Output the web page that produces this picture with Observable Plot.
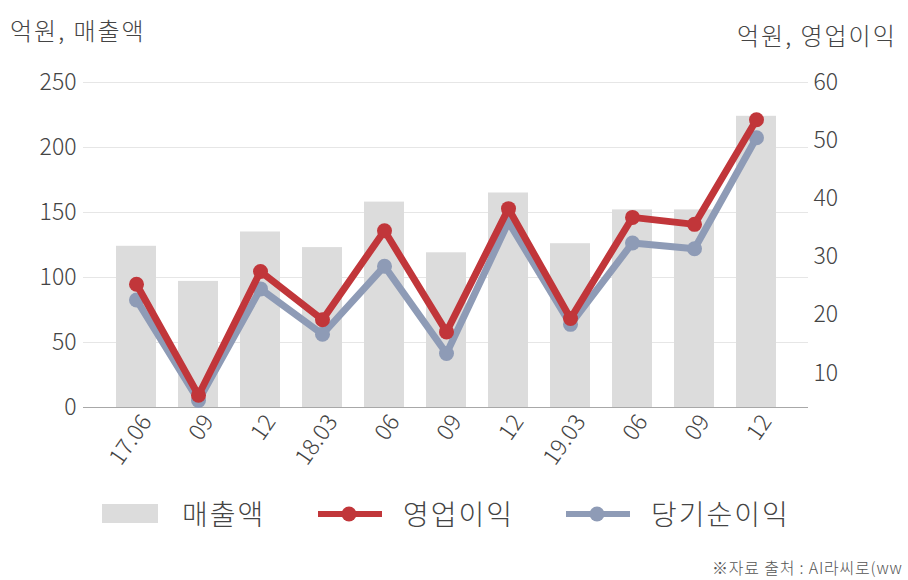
<!DOCTYPE html>
<html>
<head>
<meta charset="utf-8">
<script src="https://cdn.jsdelivr.net/npm/d3@7"></script>
<script src="https://cdn.jsdelivr.net/npm/@observablehq/plot@0.6"></script>
<style>
  html, body { margin: 0; padding: 0; background: #fff; }
  #page { position: relative; width: 908px; height: 580px; overflow: hidden; font-family: 'Noto Sans CJK KR', 'Noto Sans', sans-serif; font-weight: 300; color: #444; }
  #chart { position: absolute; left: 0; top: 0; }
  .unit { position: absolute; font-size: 24px; white-space: nowrap; color: #444; letter-spacing: 2px; }
  .leg { position: absolute; font-size: 28px; white-space: nowrap; color: #444; line-height: 1; letter-spacing: 2px; }
  .sw { position: absolute; }
  #cap { position: absolute; left: 712px; top: 555px; font-size: 16px; white-space: nowrap; color: #555; letter-spacing: 0.8px; }
</style>
</head>
<body>
<div id="page">
  <div id="chart"></div>
  <div class="unit" style="left:10px; top:12px;">억원, 매출액</div>
  <div class="unit" style="left:737px; top:17px;">억원, 영업이익</div>

  <svg class="sw" style="left:102px; top:504px;" width="56" height="19"><rect width="56" height="19" fill="#dcdcdc"/></svg>
  <div class="leg" style="left:182px; top:499px;">매출액</div>

  <svg class="sw" style="left:318px; top:504px;" width="64" height="20"><line x1="0" x2="64" y1="10" y2="10" stroke="#c1363a" stroke-width="6"/><circle cx="31" cy="10" r="7.5" fill="#c1363a"/></svg>
  <div class="leg" style="left:403px; top:499px;">영업이익</div>

  <svg class="sw" style="left:566px; top:504px;" width="64" height="20"><line x1="0" x2="64" y1="10" y2="10" stroke="#8e9bb6" stroke-width="6"/><circle cx="31" cy="10" r="7.5" fill="#8e9bb6"/></svg>
  <div class="leg" style="left:651px; top:499px;">당기순이익</div>

  <div id="cap">※자료 출처 : AI라씨로(ww</div>
</div>
<script>
// ---- data ----
const quarters   = ["17.06","17.09","17.12","18.03","18.06","18.09","18.12","19.03","19.06","19.09","19.12"];
const tickLabels = ["17.06","09","12","18.03","06","09","12","19.03","06","09","12"];
const sales      = [124, 97, 135, 123, 158, 119, 165, 126, 152, 152, 224];          // 매출액 (left axis)
const opProfit   = [25.3, 6.2, 27.5, 19.2, 34.5, 17.1, 38.3, 19.4, 36.8, 35.6, 53.6]; // 영업이익 (right axis)
const netProfit  = [22.6, 5.3, 24.5, 16.7, 28.4, 13.4, 36.0, 18.4, 32.4, 31.4, 50.5]; // 당기순이익 (right axis)
const leftTicks  = [0, 50, 100, 150, 200, 250];
const rightTicks = [10, 20, 30, 40, 50, 60];

// right axis domain mapped onto the left axis domain
const leftMax = 250, rightMin = 4.1, rightMax = 60;
const toLeft = v => (v - rightMin) / (rightMax - rightMin) * leftMax;
const fromLeft = l => rightMin + l / leftMax * (rightMax - rightMin);

const barRows = quarters.map((q, i) => ({q, v: sales[i]}));
const opRows  = quarters.map((q, i) => ({q, v: toLeft(opProfit[i])}));
const netRows = quarters.map((q, i) => ({q, v: toLeft(netProfit[i])}));
const labelOf = Object.fromEntries(quarters.map((q, i) => [q, tickLabels[i]]));

const red = "#c1363a", blue = "#8e9bb6";

const chart = Plot.plot({
  width: 908,
  height: 480,
  marginTop: 82,
  marginBottom: 73,
  marginLeft: 83,
  marginRight: 100,
  style: { fontFamily: "'Noto Sans CJK KR', 'Noto Sans', sans-serif", fontWeight: 300, color: "#444", background: "transparent" },
  x: { domain: quarters, paddingInner: 0.355, paddingOuter: 0.52, label: null },
  y: { domain: [0, 250], label: null },
  marks: [
    Plot.gridY(leftTicks.filter(d => d > 0), { stroke: "#e6e6e6", strokeOpacity: 1, strokeWidth: 1.2 }),
    Plot.barY(barRows, { x: "q", y: "v", fill: "#dcdcdc" }),
    Plot.ruleY([0], { stroke: "#a8a8a8", strokeWidth: 1.2 }),
    Plot.line(netRows, { x: "q", y: "v", stroke: blue, strokeWidth: 7 }),
    Plot.dot(netRows, { x: "q", y: "v", fill: blue, r: 7.5 }),
    Plot.line(opRows, { x: "q", y: "v", stroke: red, strokeWidth: 7 }),
    Plot.dot(opRows, { x: "q", y: "v", fill: red, r: 7.5 }),
    Plot.axisY(leftTicks, { anchor: "left", tickSize: 0, tickPadding: 7, fontSize: 23, label: null }),
    Plot.axisY(rightTicks.map(toLeft), { anchor: "right", tickSize: 0, tickPadding: 5, fontSize: 23, label: null,
      tickFormat: d => String(Math.round(fromLeft(d))) }),
    Plot.axisX({ tickSize: 0, tickPadding: 4, tickRotate: -55, fontSize: 23, label: null, dx: 10, dy: 6,
      tickFormat: q => labelOf[q] })
  ]
});
document.getElementById("chart").appendChild(chart);
</script>
</body>
</html>
